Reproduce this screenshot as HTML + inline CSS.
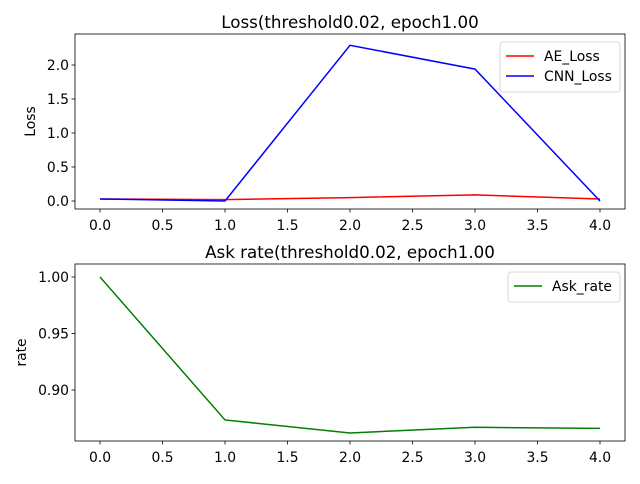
<!DOCTYPE html>
<html><head><meta charset="utf-8"><style>
body{margin:0;background:#fff;font-family:"DejaVu Sans","Liberation Sans",sans-serif}
svg text{font-family:"DejaVu Sans","Liberation Sans",sans-serif}
</style></head><body>
<svg id="c" width="640" height="480" xmlns="http://www.w3.org/2000/svg"></svg>
<script>
const xCats=[0,1,2,3,4];
const aeLoss=[0.03,0.02,0.05,0.09,0.03];
const cnnLoss=[0.03,0.0,2.29,1.94,0.0];
const askRate=[1.0,0.8735,0.862,0.867,0.866];
const xTicks=[0,0.5,1,1.5,2,2.5,3,3.5,4];
const yTicksTop=[0,0.5,1,1.5,2];
const yTicksBot=[0.90,0.95,1.00];
const svg=document.getElementById('c');
const NS='http://www.w3.org/2000/svg';
function mk(t,a,p){const e=document.createElementNS(NS,t);for(const k in a)e.setAttribute(k,a[k]);(p||svg).appendChild(e);return e;}
const L=75,R=625;
const sx=v=>100+v*125;
function panel(top,bot,yfn,yT,fmt,title,ylabel,series,legendW,name){
  const g=mk('g',{});
  
  
  series.forEach(s=>{
    const pts=s.data.map((v,i)=>sx(xCats[i])+','+yfn(v)).join(' ');
    const l=mk('polyline',{points:pts,fill:'none',stroke:s.color,'stroke-width':1.5},g);
    
    
  });
  const f=mk('rect',{x:L,y:top,width:R-L,height:bot-top,fill:'none',stroke:'#000','stroke-width':0.8},g);
  
  
  xTicks.forEach(t=>{
    mk('line',{x1:sx(t),x2:sx(t),y1:bot,y2:bot+3.5,stroke:'#000','stroke-width':0.8},g);
    const tx=mk('text',{x:sx(t),y:bot+21,'font-size':13.9,'text-anchor':'middle'},g);
    tx.textContent=t.toFixed(1);
    
    
  });
  yT.forEach(t=>{
    mk('line',{x1:L-3.5,x2:L,y1:yfn(t),y2:yfn(t),stroke:'#000','stroke-width':0.8},g);
    const tx=mk('text',{x:L-6,y:yfn(t)+5,'font-size':13.9,'text-anchor':'end'},g);
    tx.textContent=t.toFixed(fmt);
    
    
  });
  const ti=mk('text',{x:350,y:top-6,'font-size':16.7,'text-anchor':'middle'},g);
  ti.textContent=title;
  
  
  const yl=mk('text',{x:0,y:0,'font-size':13.9,'text-anchor':'middle',transform:`translate(${name==='loss-panel'?35:26},${(top+bot)/2}) rotate(-90)`},g);
  yl.textContent=ylabel;
  
  
  const lx=R-5-legendW, ly=top+8, lh=series.length*20+10;
  const lg=mk('g',{},g);
  
  
  mk('rect',{x:lx,y:ly,width:legendW,height:lh,rx:3,fill:'#fff',stroke:'#ccc','stroke-width':0.8},lg);
  series.forEach((s,i)=>{
    const yy=ly+14+i*20;
    mk('line',{x1:lx+6,x2:lx+34,y1:yy,y2:yy,stroke:s.color,'stroke-width':1.5},lg);
    const t=mk('text',{x:lx+44,y:yy+5,'font-size':13.9},lg);
    t.textContent=s.label;
    
    
  });
}
panel(34,209,v=>201-v*68,yTicksTop,1,'Loss(threshold0.02, epoch1.00','Loss',
  [{data:aeLoss,color:'#ff0000',label:'AE_Loss',name:'ae-loss-line'},{data:cnnLoss,color:'#0000ff',label:'CNN_Loss',name:'cnn-loss-line'}],120,'loss-panel');
panel(264,441,v=>390-(v-0.9)*1130,yTicksBot,2,'Ask rate(threshold0.02, epoch1.00','rate',
  [{data:askRate,color:'#008000',label:'Ask_rate',name:'ask-rate-line'}],112,'ask-rate-panel');
</script>
</body></html>
